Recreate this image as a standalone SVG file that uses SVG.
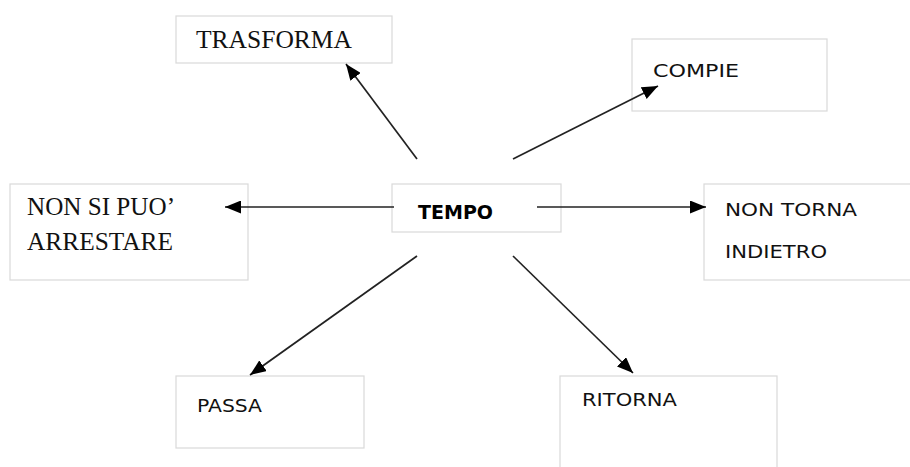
<svg xmlns="http://www.w3.org/2000/svg" width="910" height="467" viewBox="0 0 910 467">
<style>
.box{fill:#fff;stroke:#d9d9d9;stroke-width:1.2}
.serif{font-family:"Liberation Serif","DejaVu Serif",serif;font-size:25px;fill:#111}
.sans{font-family:"DejaVu Sans","Liberation Sans",sans-serif;font-size:17px;fill:#111}
.bold{font-family:"DejaVu Sans","Liberation Sans",sans-serif;font-size:19px;font-weight:bold;fill:#000}
.conn{stroke:#222;stroke-width:1.7;fill:none;marker-end:url(#ah)}
</style>
<defs>
<marker id="ah" markerUnits="userSpaceOnUse" markerWidth="17" markerHeight="13" refX="16" refY="6.5" orient="auto">
<path d="M0,0 L16,6.5 L0,13 Z" fill="#000"/>
</marker>
</defs>
<rect width="910" height="467" fill="#fff"/>
<g id="trasforma"><rect class="box" x="176" y="16" width="216" height="47"/><text class="serif" x="196" y="48" textLength="156" lengthAdjust="spacingAndGlyphs">TRASFORMA</text></g>
<g id="compie"><rect class="box" x="632" y="39" width="195" height="72"/><text class="sans" x="653" y="77" textLength="86" lengthAdjust="spacingAndGlyphs">COMPIE</text></g>
<g id="arrestare"><rect class="box" x="10" y="184" width="238" height="96"/><text class="serif" x="27" y="215" textLength="148" lengthAdjust="spacingAndGlyphs">NON SI PUO’</text><text class="serif" x="27" y="250" textLength="146" lengthAdjust="spacingAndGlyphs">ARRESTARE</text></g>
<g id="tempo"><rect class="box" x="392" y="184" width="169" height="48"/><text class="bold" x="418" y="219" textLength="75" lengthAdjust="spacingAndGlyphs">TEMPO</text></g>
<g id="indietro"><rect class="box" x="704" y="184" width="210" height="96"/><text class="sans" x="725" y="216" textLength="132" lengthAdjust="spacingAndGlyphs">NON TORNA</text><text class="sans" x="725" y="258" textLength="102" lengthAdjust="spacingAndGlyphs">INDIETRO</text></g>
<g id="passa"><rect class="box" x="176" y="376" width="188" height="72"/><text class="sans" x="197" y="412" textLength="65" lengthAdjust="spacingAndGlyphs">PASSA</text></g>
<g id="ritorna"><rect class="box" x="560" y="376" width="217" height="100"/><text class="sans" x="582" y="406" textLength="95" lengthAdjust="spacingAndGlyphs">RITORNA</text></g>
<g id="connectors">
<line class="conn" x1="417" y1="159" x2="346" y2="64"/>
<line class="conn" x1="513" y1="159" x2="658" y2="86"/>
<line class="conn" x1="394" y1="207" x2="225" y2="207"/>
<line class="conn" x1="537" y1="207" x2="706" y2="207"/>
<line class="conn" x1="417" y1="256" x2="250" y2="375"/>
<line class="conn" x1="513" y1="256" x2="633" y2="373"/>
</g>
</svg>
